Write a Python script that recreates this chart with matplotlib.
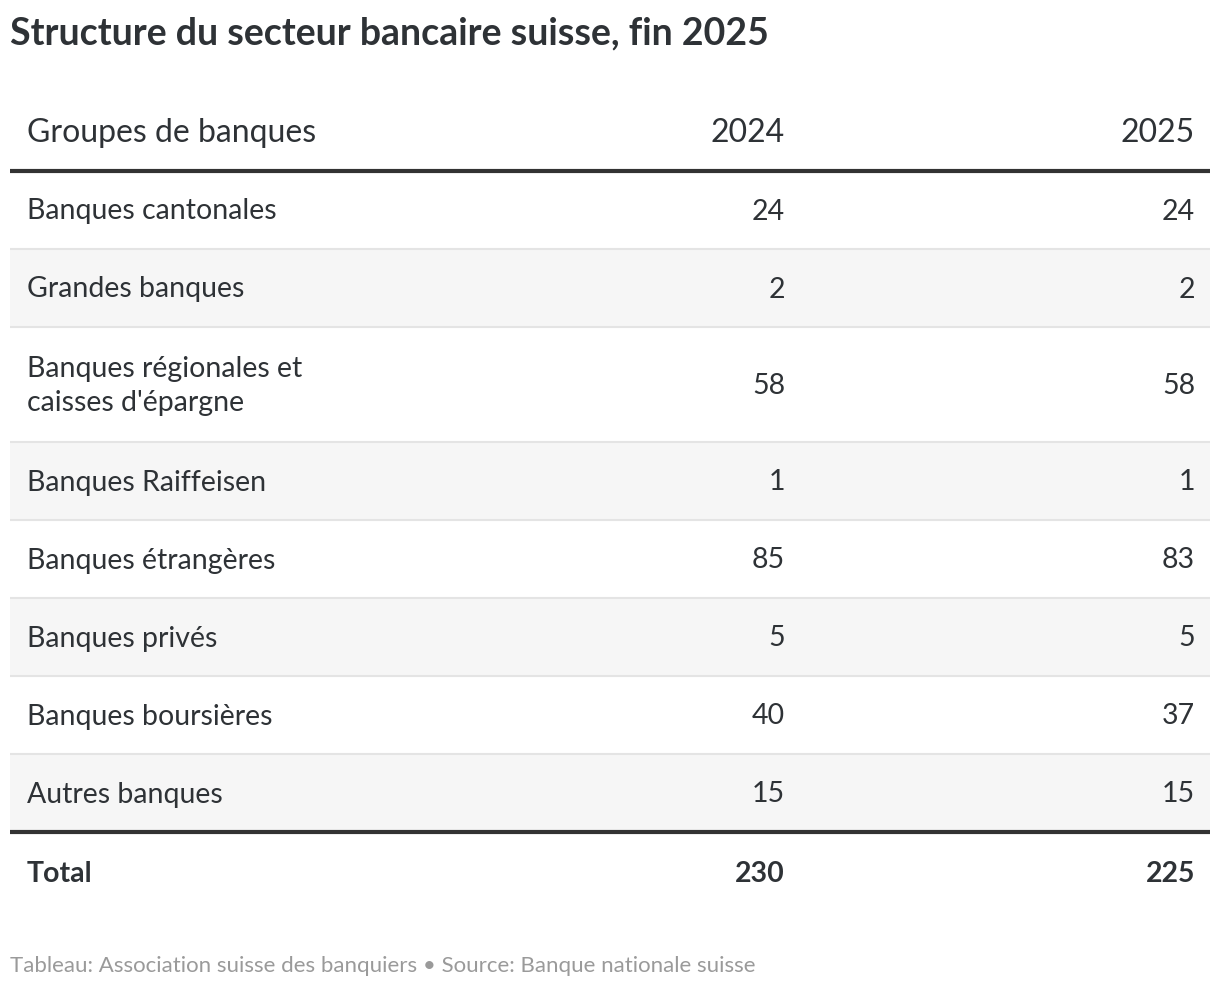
import matplotlib.pyplot as plt
from matplotlib.patches import Rectangle

plt.rcParams['font.family'] = ['Lato', 'DejaVu Sans']

title = "Structure du secteur bancaire suisse, fin 2025"
col_header = "Groupes de banques"
years = ["2024", "2025"]
categories = ["Banques cantonales", "Grandes banques",
              "Banques régionales et\ncaisses d'épargne", "Banques Raiffeisen",
              "Banques étrangères", "Banques privés", "Banques boursières",
              "Autres banques"]
values_2024 = [24, 2, 58, 1, 85, 5, 40, 15]
values_2025 = [24, 2, 58, 1, 83, 5, 37, 15]
total_label = "Total"
footer = "Tableau: Association suisse des banquiers \u2022 Source: Banque nationale suisse"

W, H = 1220, 990
text_col = '#2e3236'
body_fs = 20.5
fig = plt.figure(figsize=(W / 100, H / 100), dpi=100)
ax = fig.add_axes([0, 0, 1, 1])
ax.set_xlim(0, W)
ax.set_ylim(H, 0)
ax.axis('off')

left, right = 10, 1210
x_label, x_c1, x_c2 = 27, 785, 1195

ax.text(10, 33, title, fontsize=27, fontweight='bold', color=text_col, va='center')

ax.text(x_label, 133, col_header, fontsize=23, color=text_col, va='center')
ax.text(x_c1, 133, years[0], fontsize=23, color=text_col, va='center', ha='right')
ax.text(x_c2, 133, years[1], fontsize=23, color=text_col, va='center', ha='right')

y = 171
ax.plot([left, right], [y, y], color='#333333', lw=3, solid_capstyle='butt')
for i, (cat, v1, v2) in enumerate(zip(categories, values_2024, values_2025)):
    h = 115 if '\n' in cat else 78
    if i % 2 == 1:
        ax.add_patch(Rectangle((left, y), right - left, h, color='#f6f6f6', lw=0, zorder=0))
    mid = y + h / 2 + 1.5
    ax.text(x_label, mid, cat, fontsize=body_fs, color=text_col, va='center', linespacing=1.4)
    ax.text(x_c1, mid, str(v1), fontsize=body_fs, color=text_col, va='center', ha='right')
    ax.text(x_c2, mid, str(v2), fontsize=body_fs, color=text_col, va='center', ha='right')
    y += h
    if i < len(categories) - 1:
        ax.plot([left, right], [y, y], color='#e4e4e4', lw=1.5, solid_capstyle='butt')

ax.plot([left, right], [y, y], color='#333333', lw=3, solid_capstyle='butt')
mid = y + 42
ax.text(x_label, mid, total_label, fontsize=body_fs, fontweight='bold', color=text_col, va='center')
ax.text(x_c1, mid, str(sum(values_2024)), fontsize=body_fs, fontweight='bold', color=text_col,
        va='center', ha='right')
ax.text(x_c2, mid, str(sum(values_2025)), fontsize=body_fs, fontweight='bold', color=text_col,
        va='center', ha='right')

ax.text(10, 966, footer, fontsize=16, color='#9a9a9a', va='center')

fig.savefig('out.png', dpi=100)
